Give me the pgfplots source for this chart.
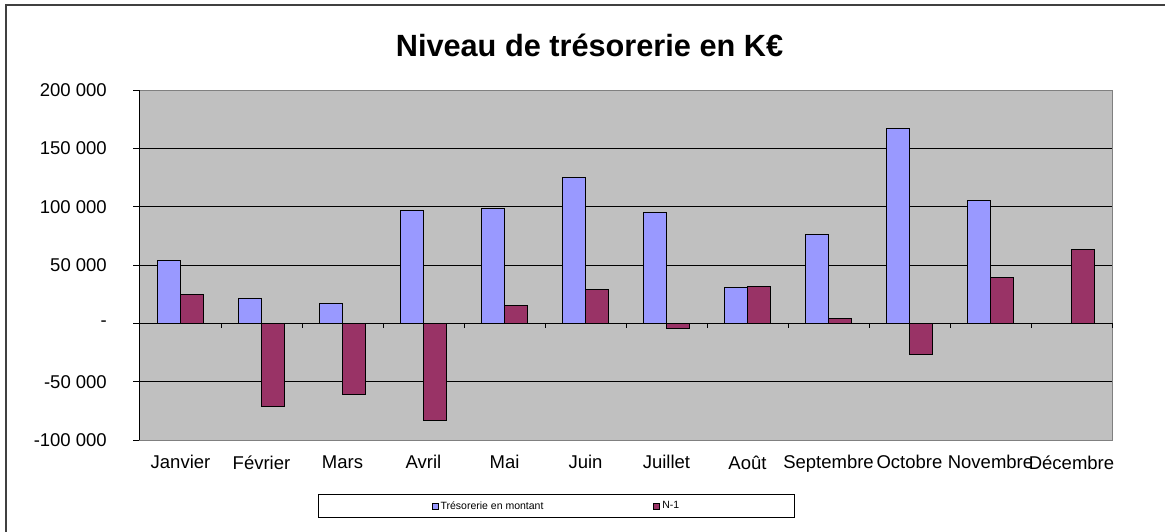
\documentclass[border=0pt]{standalone}
\usepackage{pgfplots}
\pgfplotsset{compat=1.18}
\usepackage{fontspec}
\setmainfont{Liberation Sans}
\definecolor{barblue}{HTML}{9999FF}
\definecolor{barred}{HTML}{993366}
\definecolor{plotbg}{HTML}{C0C0C0}
\begin{document}
\begin{tikzpicture}
\useasboundingbox (0pt,0pt) rectangle (1165pt,-531pt);
\draw[line width=1.5pt, black!75] (6pt,-545pt) -- (6pt,-5pt) -- (1180pt,-5pt);
\node[font=\bfseries\fontsize{30.7}{36}\selectfont] at (589.5pt,-45pt) {Niveau de trésorerie en K€};
\begin{axis}[
  at={(140pt,-440pt)}, anchor=south west, scale only axis,
  width=972pt, height=350pt,
  xmin=-0.5, xmax=11.5, ymin=-100000, ymax=200000,
  ybar=0pt, bar width=23pt,
  clip=false,
  axis background/.style={fill=plotbg},
  axis line style={draw=none},
  ymajorgrids, grid style={black, line width=1pt},
  scaled y ticks=false,
  ytick pos=left,
  ytick={-100000,-50000,0,50000,100000,150000,200000},
  yticklabels={-100 000,-50 000,-,50 000,100 000,150 000,200 000},
  xtick={0,1,2,3,4,5,6,7,8,9,10,11},
  xticklabels={Janvier,Février,Mars,Avril,Mai,Juin,Juillet,Août,Septembre,Octobre,Novembre,Décembre},
  x tick style={draw=none},
  y tick style={black, line width=1pt},
  tick align=outside, major tick length=7pt,
  /pgf/number format/assume math mode=true,
  ticklabel style={font=\fontsize{18.5}{22}\selectfont, text=black},
  xticklabel style={anchor=north, yshift=-5pt},
  yticklabel style={anchor=east, inner sep=0pt, xshift=-26pt},
  legend columns=2,
  legend image code/.code={\draw[#1, draw=black, line width=0.8pt] (0pt,-3pt) rectangle (6pt,3pt);},
  legend style={at={(0.4285,-0.1886)}, anchor=center, draw=black, line width=1.2pt,
    fill=white, inner xsep=113.5pt, inner ysep=5pt,
    font=\fontsize{10.5}{12}\selectfont,
    /tikz/every even column/.append style={column sep=108pt}},
]
\addplot[fill=barblue, draw=black, line width=1pt] coordinates {
  (0,54000) (1,21400) (2,17400) (3,96600) (4,98600) (5,124900)
  (6,95100) (7,30600) (8,76300) (9,167400) (10,105700)};
\addplot[fill=barred, draw=black, line width=1pt] coordinates {
  (0,25000) (1,-70900) (2,-60600) (3,-82900) (4,15700) (5,29100)
  (6,-4600) (7,31700) (8,4000) (9,-26900) (10,39100) (11,62900)};
\legend{Trésorerie en montant, N-1}
\draw[gray, line width=1pt] (rel axis cs:0,0) rectangle (rel axis cs:1,1);
\draw[black, line width=1pt] (rel axis cs:0,0) -- (rel axis cs:0,1);
\pgfplotsinvokeforeach{-0.5,0.5,1.5,2.5,3.5,4.5,5.5,6.5,7.5,8.5,9.5,10.5,11.5}{
  \draw[black, line width=1pt] (axis cs:#1,0) -- ++(0pt,-5pt);
}
\end{axis}
\end{tikzpicture}
\end{document}
